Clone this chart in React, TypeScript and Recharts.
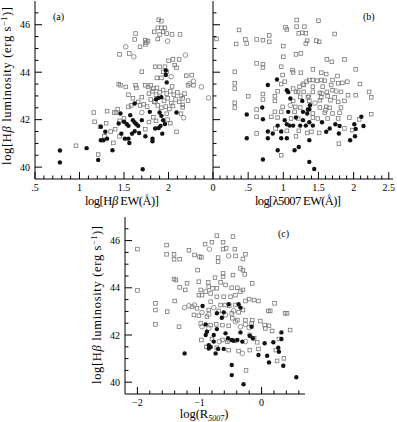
import React from 'react';
import { ScatterChart, Scatter, XAxis, YAxis } from 'recharts';

type Pt = [number, number];

const FONT = '"Liberation Serif", "DejaVu Serif", serif';
const OPEN = '#777';
const INK = '#111';

// panel (a): log Hb EW vs log L(Hb)
const aSquares: Pt[] = [
  [1.89, 46.21], [1.92, 46.15], [1.88, 45.87], [1.92, 45.87], [1.96, 45.87], [1.84, 45.7], [1.94, 45.7],
  [1.9, 45.59], [1.98, 45.63], [1.63, 45.63], [2.04, 45.59], [2.13, 45.59], [1.62, 45.38], [1.74, 45.35],
  [1.75, 45.25], [1.77, 45.31], [1.74, 45.17], [1.88, 45.4], [1.68, 45.07], [1.56, 44.79], [1.45, 44.75],
  [2.0, 44.48], [2.05, 44.54], [2.12, 44.54], [1.85, 44.23], [1.9, 44.23], [1.96, 44.23], [1.94, 44.02],
  [1.98, 44.02], [2.07, 44.3], [2.09, 44.19], [1.87, 43.76], [1.92, 43.76], [2.2, 43.85], [2.26, 43.88],
  [2.28, 43.45], [2.22, 43.45], [1.7, 44.02], [1.44, 43.5], [1.46, 43.45], [1.52, 43.38], [1.63, 43.45],
  [1.64, 43.34], [1.74, 43.45], [1.77, 43.38], [1.8, 43.45], [1.83, 43.31], [1.87, 43.34],
  [1.78, 43.1], [1.82, 43.2], [1.86, 43.05], [1.9, 43.15], [1.94, 43.25], [1.98, 43.1], [2.02, 43.2],
  [2.06, 43.05], [2.1, 43.15], [2.14, 43.0], [2.18, 43.1], [1.8, 42.85], [1.84, 42.75], [1.95, 42.8],
  [1.99, 42.9], [2.03, 42.7], [2.08, 42.85], [2.12, 42.75], [2.16, 42.9], [2.22, 42.8], [2.16, 42.62],
  [2.16, 42.52], [1.88, 42.6], [1.92, 42.5], [1.97, 42.55], [2.01, 42.45], [2.05, 42.58], [1.76, 42.55],
  [1.72, 42.65], [1.68, 42.6], [1.66, 42.75], [1.31, 42.36], [1.39, 42.3], [1.41, 42.3], [1.43, 42.44],
  [1.55, 42.54], [1.58, 42.6], [2.09, 41.49], [2.14, 42.25], [1.17, 41.91], [1.23, 41.7], [1.16, 42.3],
  [0.96, 40.9], [1.21, 40.53], [1.38, 41.02], [1.3, 41.85], [1.35, 41.5], [1.4, 41.6], [1.45, 41.95],
  [1.5, 42.05], [1.74, 41.6], [1.78, 41.9], [1.83, 42.1], [1.86, 41.95], [1.99, 42.0], [2.02, 41.85],
  [1.98, 42.25], [1.28, 41.3], [1.45, 41.3], [1.55, 43.05], [1.6, 42.9], [1.7, 42.95], [2.04, 43.4],
];
const aCircles: Pt[] = [
  [1.52, 45.07], [1.61, 44.65], [1.99, 45.31], [2.03, 43.81], [2.28, 43.62], [2.24, 43.52],
  [2.37, 43.38], [2.45, 42.92], [2.17, 42.08], [2.19, 44.72], [1.85, 42.75], [1.7, 42.3],
];
const aFilled: Pt[] = [
  [1.71, 39.91], [1.21, 40.3], [1.37, 40.71], [1.24, 41.13], [1.27, 41.13], [1.31, 41.2], [1.51, 41.2],
  [1.55, 41.2], [1.56, 41.02], [1.29, 41.49], [1.24, 41.7], [1.47, 41.41], [1.59, 41.41], [1.62, 41.51],
  [1.67, 41.44], [1.74, 41.3], [1.82, 41.2], [1.82, 41.09], [1.93, 41.41], [1.5, 41.91], [1.53, 41.82],
  [1.55, 41.74], [1.6, 41.98], [1.62, 41.88], [1.64, 41.81], [1.66, 41.74], [1.57, 42.19], [1.62, 42.68],
  [1.7, 41.98], [1.79, 42.33], [1.9, 42.3], [1.92, 42.16], [1.94, 41.98], [1.96, 41.82], [1.85, 41.63],
  [1.89, 41.65], [1.91, 41.74], [2.09, 42.3], [1.97, 43.88], [1.97, 44.07], [1.89, 42.92], [1.92, 42.95],
  [1.86, 42.86], [1.98, 43.57], [1.46, 42.26], [1.44, 41.84], [0.78, 40.7], [0.78, 40.2], [1.08, 40.8],
];

// panel (b): log [OIII] 5007 EW vs log L(Hb)
const bSquares: Pt[] = [
  [0.05, 45.4], [0.37, 45.78], [0.33, 45.19], [0.46, 45.38], [0.48, 45.21], [0.62, 45.38], [0.71, 45.35],
  [0.8, 45.55], [0.8, 45.28], [1.03, 45.89], [1.05, 45.8], [1.19, 46.2], [1.19, 45.92], [1.3, 45.92],
  [1.5, 46.17], [1.22, 45.64], [1.27, 45.66], [1.32, 45.64], [1.0, 45.1], [1.34, 45.33], [1.32, 45.21],
  [1.47, 45.33], [1.51, 45.28], [1.73, 45.61], [1.18, 44.75], [1.25, 44.79], [1.0, 44.65], [0.62, 44.37],
  [0.71, 44.34], [0.71, 44.2], [1.62, 44.54], [1.69, 44.44], [1.87, 44.54], [0.31, 44.02], [0.97, 44.23],
  [1.13, 44.09], [1.14, 43.99], [0.99, 43.88], [1.25, 43.98], [1.42, 44.12], [1.54, 43.98], [1.61, 43.92],
  [1.77, 43.84], [1.7, 43.67], [2.03, 44.12], [0.31, 43.53], [0.31, 43.31], [0.5, 42.99], [0.31, 42.71],
  [0.31, 42.51], [0.62, 42.43], [0.62, 42.12], [0.71, 43.08], [0.71, 42.85], [0.88, 42.99], [0.88, 42.79],
  [0.92, 43.2], [0.97, 43.5], [1.02, 43.6], [1.14, 43.31], [1.18, 43.17], [1.23, 43.39], [1.33, 43.6],
  [1.37, 43.67], [1.42, 43.67], [1.48, 43.64], [1.54, 43.67], [1.59, 43.64], [1.29, 43.46], [1.42, 43.39],
  [1.56, 43.39], [1.68, 43.46], [1.78, 43.53], [1.84, 43.55], [1.91, 43.6], [2.09, 43.5], [1.21, 43.17],
  [1.29, 43.17], [1.42, 43.17], [1.52, 43.13], [1.62, 43.17], [1.7, 43.24], [1.82, 43.17], [1.24, 42.96],
  [1.35, 42.94], [1.54, 42.94], [1.63, 42.99], [1.73, 42.94], [1.92, 43.03], [2.03, 43.03], [2.22, 43.17],
  [2.25, 42.94], [1.14, 42.79], [1.37, 42.79], [1.52, 42.82], [1.67, 42.82], [1.78, 42.75], [1.87, 42.79],
  [0.99, 42.54], [1.17, 42.54], [1.24, 42.51], [1.52, 42.51], [1.61, 42.54], [1.66, 42.5], [1.82, 42.51],
  [0.88, 42.33], [0.97, 42.33], [1.16, 42.33], [1.42, 42.26], [1.59, 42.29], [1.7, 42.26], [1.8, 42.29],
  [2.25, 42.23], [0.83, 42.12], [0.92, 42.09], [1.11, 42.05], [1.21, 42.05], [1.42, 42.09], [1.49, 42.05],
  [1.63, 42.05], [1.78, 42.05], [1.94, 42.09], [2.08, 42.01], [0.62, 41.42], [0.89, 41.63], [1.05, 41.53],
  [1.22, 41.53], [1.4, 41.49], [1.51, 41.44], [1.87, 41.63], [1.98, 41.56], [1.18, 41.3], [1.34, 41.44],
  [1.79, 40.99], [0.97, 40.5],
];
const bCircles: Pt[] = [
  [1.36, 43.0], [1.55, 43.1], [1.75, 43.2], [1.6, 42.4], [1.45, 42.7], [1.28, 43.5], [1.1, 42.6],
];
const bFilled: Pt[] = [
  [0.71, 40.32], [1.44, 39.92], [1.37, 40.22], [0.92, 40.71], [1.16, 40.71], [1.22, 40.85], [1.37, 41.13],
  [0.48, 41.22], [0.78, 41.22], [0.97, 41.22], [1.05, 41.22], [0.85, 41.42], [0.97, 41.5], [0.78, 41.5],
  [1.02, 41.98], [1.05, 41.81], [1.09, 41.75], [1.14, 41.75], [1.18, 42.09], [1.24, 41.75], [0.48, 42.22],
  [0.71, 42.02], [0.92, 41.75], [1.07, 42.33], [1.28, 42.33], [1.34, 42.26], [1.35, 42.43], [1.28, 41.98],
  [1.32, 41.75], [1.42, 41.75], [1.37, 41.89], [1.55, 41.89], [1.61, 41.49], [1.66, 41.63], [1.79, 41.42],
  [1.74, 41.81], [1.8, 41.73], [1.95, 41.13], [2.02, 41.3], [2.03, 41.61], [2.01, 41.81], [2.11, 42.12],
  [2.14, 41.73], [0.7, 42.51], [1.1, 42.89], [1.05, 43.24], [1.07, 43.16], [1.27, 42.79], [1.38, 42.61],
  [1.37, 42.44], [0.78, 43.46], [0.91, 43.69],
];

// panel (c): log R5007 vs log L(Hb)
const cSquares: Pt[] = [
  [-2.0, 45.64], [-2.0, 43.89], [-1.71, 43.34], [-1.71, 43.06], [-1.71, 42.45], [-1.53, 45.81], [-1.53, 45.42],
  [-1.41, 45.42], [-1.41, 45.21], [-1.32, 45.21], [-1.17, 45.59], [-1.08, 45.39], [-1.0, 45.32], [-0.97, 45.29],
  [-0.91, 45.85], [-0.8, 45.93], [-0.72, 46.21], [-0.62, 45.93], [-0.62, 45.64], [-0.57, 45.67], [-0.43, 45.64],
  [-0.46, 46.17], [-0.7, 45.28], [-0.7, 45.11], [-0.42, 45.35], [-0.3, 45.22], [-0.26, 45.42], [-1.03, 44.75],
  [-1.41, 44.37], [-1.38, 44.33], [-1.32, 44.02], [-1.2, 44.19], [-1.23, 43.91], [-1.4, 43.44], [-1.52, 42.99],
  [-1.33, 42.35], [-1.01, 44.26], [-0.86, 44.23], [-0.75, 44.43], [-0.62, 44.61], [-0.62, 44.47], [-0.46, 44.54],
  [-0.34, 44.82], [-0.3, 44.75], [-0.27, 44.57], [-0.15, 44.19], [-0.98, 43.91], [-0.9, 43.84], [-0.85, 44.05],
  [-0.79, 43.98], [-0.72, 43.98], [-0.66, 44.23], [-0.58, 44.12], [-0.48, 44.0], [-0.39, 44.0], [-0.34, 43.84],
  [-0.3, 43.91], [-1.01, 43.69], [-0.96, 43.69], [-0.82, 43.76], [-0.72, 43.62], [-0.61, 43.62], [-0.5, 43.62],
  [-0.42, 43.69], [-0.2, 43.52], [-0.82, 43.41], [-0.66, 43.27], [-0.58, 43.27], [-0.52, 43.24], [-0.42, 43.27],
  [-0.26, 43.44], [-0.12, 43.48], [-0.05, 43.44], [0.21, 43.34], [-1.12, 43.2], [-1.04, 43.13], [-0.85, 43.06],
  [-0.69, 43.02], [-0.48, 42.92], [-0.37, 42.96], [-0.3, 43.06], [0.11, 43.02], [0.14, 43.02], [0.38, 42.92],
  [0.41, 42.92], [-1.09, 42.85], [-1.01, 42.82], [-0.88, 42.78], [-0.47, 42.71], [-0.39, 42.63], [-0.26, 42.63],
  [-0.15, 42.63], [-0.02, 42.59], [0.05, 42.42], [0.12, 42.39], [-0.98, 42.49], [-0.82, 42.42], [-0.73, 42.45],
  [-0.63, 42.42], [-0.53, 42.39], [-0.16, 42.49], [0.06, 42.28], [0.17, 42.17], [0.46, 42.21], [-0.97, 41.79],
  [-0.8, 41.83], [-0.63, 41.79], [-0.55, 41.72], [-0.43, 41.75], [-0.12, 41.86], [-0.07, 41.69], [0.28, 41.83],
  [-0.89, 41.5], [-0.72, 41.46], [-0.53, 41.36], [-0.37, 41.32], [-0.19, 41.36], [-0.05, 41.41], [0.23, 41.36],
  [-0.25, 40.5], [0.25, 40.9], [0.36, 41.01],
];
const cCircles: Pt[] = [
  [-0.84, 45.64], [-0.53, 45.35], [-1.24, 43.16], [-1.17, 43.24], [-1.08, 43.27], [-0.96, 42.96], [-0.85, 42.87],
  [-0.77, 43.16], [-0.58, 42.85], [-0.45, 43.02], [-0.42, 42.56], [-0.34, 42.35], [-0.26, 42.45], [-0.2, 42.31],
  [-0.96, 42.35], [-0.85, 42.28], [-0.68, 41.72], [-0.53, 41.79], [-0.26, 41.72], [-0.19, 42.0], [-0.31, 41.22],
];
const cFilled: Pt[] = [
  [-1.24, 41.22], [-0.48, 40.73], [-0.48, 40.3], [-0.29, 39.91], [0.56, 40.21], [-0.95, 43.23], [-0.9, 42.45],
  [-0.88, 42.14], [-0.9, 42.0], [-0.85, 41.57], [-0.82, 41.49], [-0.85, 41.43], [-0.74, 41.22], [-0.7, 41.41],
  [-0.61, 41.41], [-0.77, 42.0], [-0.72, 42.25], [-0.58, 42.07], [-0.54, 41.86], [-0.48, 41.79], [-0.45, 41.76],
  [-0.39, 41.79], [-0.31, 41.72], [-0.34, 42.11], [-0.72, 42.92], [-0.64, 42.73], [-0.34, 43.16], [-0.37, 43.3],
  [-0.61, 42.96], [-0.53, 43.3], [-0.16, 42.35], [-0.19, 41.97], [-0.14, 41.86], [-0.05, 41.15], [0.09, 41.12],
  [0.12, 40.84], [0.19, 41.69], [0.32, 42.11], [0.32, 41.83], [0.27, 41.46], [0.28, 41.29], [0.35, 40.7],
  [0.05, 41.65], [-0.77, 41.72],
];

// axes
const lumMajor = [40, 42, 44, 46];
const lumLabels = ['40', '42', '44', '46'];
const aXMajor = [0.5, 1, 1.5, 2, 2.5];
const aXLabels = ['.5', '1', '1.5', '2', ''];
const bXMajor = [0, 0.5, 1, 1.5, 2, 2.5];
const bXLabels = ['0', '.5', '1', '1.5', '2', '2.5'];
const cXMajor = [-2, -1, 0];
const cXLabels = ['\u22122', '\u22121', '0'];

const steps = (a: number, b: number, s: number) => {
  const out: number[] = [];
  for (let v = a; v <= b + 1e-9; v += s) out.push(+v.toFixed(3));
  return out;
};
const lumTicks = steps(40, 46.5, 0.5);

const toXY = (pts: Pt[]) => pts.map(([x, y]) => ({ x, y }));

const Square = (p: any) => (
  <rect x={p.cx - 1.8} y={p.cy - 1.8} width={3.6} height={3.6} fill="none" stroke={OPEN} strokeWidth={0.8} />
);
const Ring = (p: any) => <circle cx={p.cx} cy={p.cy} r={2.3} fill="none" stroke={OPEN} strokeWidth={0.8} />;
const Dot = (p: any) => <circle cx={p.cx} cy={p.cy} r={2.2} fill={INK} />;

const near = (list: number[], v: number) => list.findIndex((m) => Math.abs(m - v) < 1e-6);

// inward ticks on every side, labels only on the major ones
function makeTick(side: string, major: number[], labels: string[] | null) {
  return (props: any) => {
    const { x, y, payload } = props;
    const i = near(major, payload.value);
    const len = i >= 0 ? 7 : 3.5;
    let line;
    if (side === 'bottom') line = <line x1={x} y1={y} x2={x} y2={y - len} stroke="#000" />;
    else if (side === 'top') line = <line x1={x} y1={y} x2={x} y2={y + len} stroke="#000" />;
    else if (side === 'left') line = <line x1={x} y1={y} x2={x + len} y2={y} stroke="#000" />;
    else line = <line x1={x} y1={y} x2={x - len} y2={y} stroke="#000" />;
    let label = null;
    if (labels && i >= 0 && labels[i]) {
      label =
        side === 'bottom' ? (
          <text x={x} y={y + 11.5} textAnchor="middle" fontSize={10} fontFamily={FONT} fill="#000">
            {labels[i]}
          </text>
        ) : (
          <text x={x - 5} y={y + 3.5} textAnchor="end" fontSize={10} fontFamily={FONT} fill="#000">
            {labels[i]}
          </text>
        );
    }
    return (
      <g>
        {line}
        {label}
      </g>
    );
  };
}

interface PanelProps {
  left: number;
  top: number;
  width: number;
  height: number;
  xDomain: [number, number];
  xTicks: number[];
  xMajor: number[];
  xLabels: string[];
  showY: boolean;
  squares: Pt[];
  circles: Pt[];
  filled: Pt[];
}

const Panel = ({ left, top, width, height, xDomain, xTicks, xMajor, xLabels, showY, squares, circles, filled }: PanelProps) => (
  <div style={{ position: 'absolute', left, top }}>
    <ScatterChart width={width} height={height} margin={{ top: 1, right: 7, bottom: 0, left: 0 }}>
      <XAxis
        type="number"
        dataKey="x"
        domain={xDomain}
        ticks={xTicks}
        interval={0}
        height={21}
        tickSize={0}
        tickMargin={0}
        axisLine={{ stroke: '#000' }}
        tickLine={false}
        tick={makeTick('bottom', xMajor, xLabels)}
      />
      <XAxis
        xAxisId="top"
        orientation="top"
        type="number"
        domain={xDomain}
        ticks={xTicks}
        interval={0}
        height={0}
        tickSize={0}
        tickMargin={0}
        axisLine={{ stroke: '#000' }}
        tickLine={false}
        tick={makeTick('top', xMajor, null)}
      />
      <YAxis
        type="number"
        dataKey="y"
        domain={[39.5, 47]}
        ticks={lumTicks}
        interval={0}
        width={35}
        tickSize={0}
        tickMargin={0}
        axisLine={{ stroke: '#000' }}
        tickLine={false}
        tick={makeTick('left', lumMajor, showY ? lumLabels : null)}
      />
      <YAxis
        yAxisId="right"
        orientation="right"
        type="number"
        domain={[39.5, 47]}
        ticks={lumTicks}
        interval={0}
        width={0}
        tickSize={0}
        tickMargin={0}
        axisLine={{ stroke: '#000' }}
        tickLine={false}
        tick={makeTick('right', lumMajor, null)}
      />
      <Scatter data={toXY(squares)} shape={Square} isAnimationActive={false} />
      <Scatter data={toXY(circles)} shape={Ring} isAnimationActive={false} />
      <Scatter data={toXY(filled)} shape={Dot} isAnimationActive={false} />
    </ScatterChart>
  </div>
);

const LumTitle = ({ x, y }: { x: number; y: number }) => (
  <text
    transform={`translate(${x},${y}) rotate(-90)`}
    textAnchor="middle"
    fontSize={12.5}
    fontFamily={FONT}
    textLength={158}
    lengthAdjust="spacing"
  >
    log[H<tspan fontStyle="italic">β</tspan> luminosity (erg s<tspan dy={-4} fontSize={8}>−1</tspan>
    <tspan dy={4}>)]</tspan>
  </text>
);

export default function App() {
  return (
    <div style={{ position: 'absolute', left: 0, top: 0, width: 397, height: 422, background: '#fff' }}>
      <Panel
        left={0}
        top={0}
        width={220}
        height={200}
        xDomain={[0.5, 2.5]}
        xTicks={steps(0.5, 2.4, 0.1)}
        xMajor={aXMajor}
        xLabels={aXLabels}
        showY
        squares={aSquares}
        circles={aCircles}
        filled={aFilled}
      />
      <Panel
        left={178}
        top={0}
        width={222}
        height={200}
        xDomain={[0, 2.56]}
        xTicks={steps(0, 2.5, 0.1)}
        xMajor={bXMajor}
        xLabels={bXLabels}
        showY={false}
        squares={bSquares}
        circles={bCircles}
        filled={bFilled}
      />
      <Panel
        left={90}
        top={216}
        width={222}
        height={199}
        xDomain={[-2.2, 0.7]}
        xTicks={steps(-2, 0.6, 0.2)}
        xMajor={cXMajor}
        xLabels={cXLabels}
        showY
        squares={cSquares}
        circles={cCircles}
        filled={cFilled}
      />
      <svg width={397} height={422} style={{ position: 'absolute', left: 0, top: 0, pointerEvents: 'none' }}>
        <g fontFamily={FONT} fill="#000">
          <text x={53} y={20} fontSize={10}>(a)</text>
          <text x={363} y={20} fontSize={10}>(b)</text>
          <text x={278} y={237} fontSize={10}>(c)</text>
          <text x={122} y={205} textAnchor="middle" fontSize={12.5} textLength={74} lengthAdjust="spacing">
            log[H<tspan fontStyle="italic">β</tspan> EW(Å)]
          </text>
          <text x={298} y={205} textAnchor="middle" fontSize={12.5} textLength={86} lengthAdjust="spacing">
            log[λ5007 EW(Å)]
          </text>
          <text x={204} y={418} textAnchor="middle" fontSize={12.5}>
            log(R<tspan dy={3} fontSize={8} fontStyle="italic">5007</tspan>
            <tspan dy={-3}>)</tspan>
          </text>
        </g>
        <LumTitle x={11} y={86} />
        <LumTitle x={101} y={305} />
      </svg>
    </div>
  );
}
